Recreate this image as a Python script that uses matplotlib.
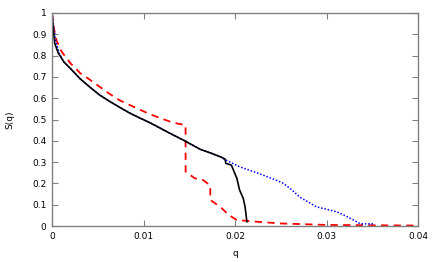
import matplotlib
matplotlib.use("Agg")
import matplotlib.pyplot as plt

# Black solid curve
q_black = [0, 0.00015, 0.0003, 0.0007, 0.00087, 0.0013, 0.002, 0.0031, 0.0042, 0.0052,
           0.0063, 0.0074, 0.0085, 0.0096, 0.0107, 0.0118, 0.0129, 0.0145, 0.0162,
           0.0175, 0.0184, 0.0189, 0.0190, 0.0196, 0.0202, 0.0205, 0.0209, 0.0211, 0.0213]
s_black = [1.0, 0.92, 0.857, 0.81, 0.80, 0.77, 0.74, 0.69, 0.65, 0.615,
           0.585, 0.557, 0.53, 0.507, 0.485, 0.46, 0.435, 0.40, 0.36,
           0.34, 0.325, 0.315, 0.294, 0.286, 0.224, 0.169, 0.13, 0.09, 0.02]

# Blue dotted curve
q_blue = [0, 0.0002, 0.0004, 0.0008, 0.0013, 0.002, 0.0031, 0.0042, 0.0052,
          0.0063, 0.0074, 0.0085, 0.0096, 0.0107, 0.0118, 0.0129, 0.0145, 0.0162,
          0.0175, 0.0184, 0.0189, 0.0205, 0.0227, 0.0245, 0.0253, 0.0262, 0.0271,
          0.0289, 0.0311, 0.0322, 0.0333, 0.0337, 0.0351]
s_blue = [1.0, 0.93, 0.87, 0.81, 0.77, 0.74, 0.69, 0.65, 0.615,
          0.585, 0.557, 0.53, 0.507, 0.485, 0.46, 0.435, 0.40, 0.36,
          0.34, 0.325, 0.312, 0.278, 0.245, 0.215, 0.20, 0.17, 0.135,
          0.09, 0.067, 0.045, 0.02, 0.01, 0.01]

# Red dashed curve
q_red = [0, 0.0002, 0.0005, 0.00106, 0.002, 0.0031, 0.0042, 0.0052, 0.0063, 0.0074,
         0.0085, 0.0096, 0.0107, 0.0118, 0.0129, 0.0138, 0.0146, 0.0146, 0.0156,
         0.0165, 0.0173, 0.0173, 0.0184, 0.0193, 0.0202, 0.0224, 0.025, 0.030, 0.040]
s_red = [1.0, 0.93, 0.87, 0.818, 0.765, 0.717, 0.685, 0.654, 0.62, 0.59,
         0.568, 0.546, 0.525, 0.507, 0.49, 0.48, 0.474, 0.255, 0.224,
         0.216, 0.19, 0.122, 0.09, 0.052, 0.028, 0.02, 0.012, 0.005, 0.002]

x_ticks = [0, 0.01, 0.02, 0.03, 0.04]
x_ticklabels = ["0", "0.01", "0.02", "0.03", "0.04"]
y_ticks = [0, 0.1, 0.2, 0.3, 0.4, 0.5, 0.6, 0.7, 0.8, 0.9, 1.0]
y_ticklabels = ["0", "0.1", "0.2", "0.3", "0.4", "0.5", "0.6", "0.7", "0.8", "0.9", "1"]

plt.rcParams['font.family'] = ['DejaVu Sans']
fig = plt.figure(figsize=(4.36, 2.62), dpi=100)
ax = fig.add_axes([52/436, 1 - 226/262, (418 - 52)/436, (226 - 13)/262])

ax.plot(q_red, s_red, color='#ff0000', lw=1.3, ls=(0, (4, 3)))
ax.plot(q_blue, s_blue, color='#0000ff', lw=1.1, ls=(0, (1, 1.2)))
ax.plot(q_black, s_black, color='black', lw=1.2)

ax.set_xlim(0, 0.04)
ax.set_ylim(0, 1)
ax.set_xticks(x_ticks)
ax.set_xticklabels(x_ticklabels)
ax.set_yticks(y_ticks)
ax.set_yticklabels(y_ticklabels)
ax.tick_params(direction='in', length=4, width=0.8, color='#808080', labelsize=6.5,
               top=True, right=True, pad=4)
for sp in ax.spines.values():
    sp.set_color('#808080')
    sp.set_linewidth(1.0)
ax.set_xlabel('q', fontsize=6.5, labelpad=6)
ax.set_ylabel('S(q)', fontsize=6.5, labelpad=13)

fig.savefig('out.png', dpi=100)
